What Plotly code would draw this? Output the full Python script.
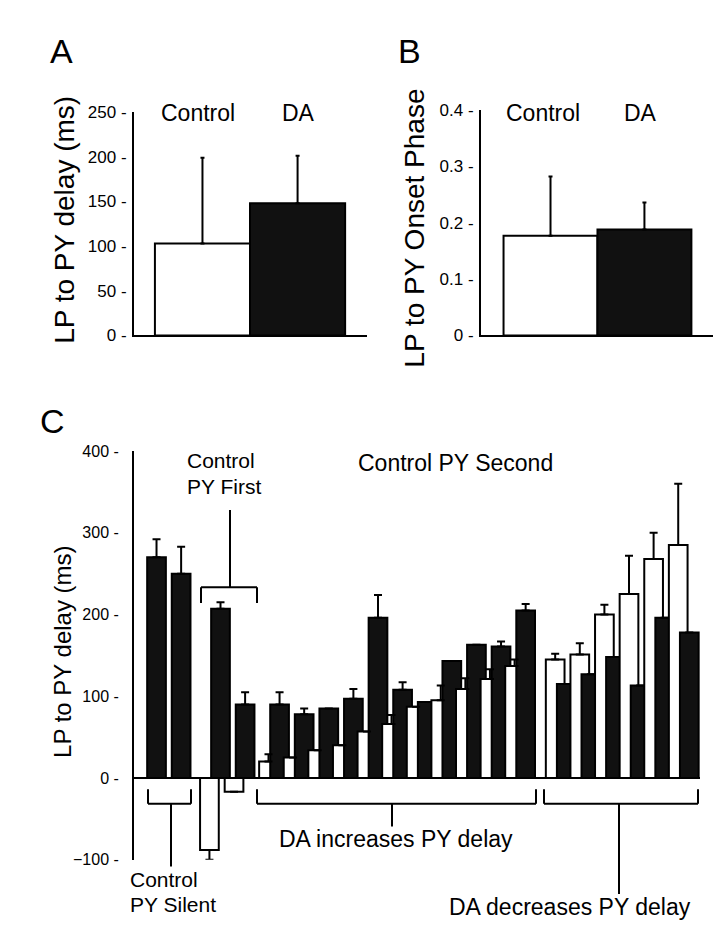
import plotly.graph_objects as go

# Panel A: LP to PY delay (ms)
a_labels = ["Control", "DA"]
a_means = [103, 148]
a_sem = [96, 53]

# Panel B: LP to PY onset phase
b_labels = ["Control", "DA"]
b_means = [0.177, 0.188]
b_sem = [0.105, 0.048]

# Panel C: per-preparation delays (ms), white = control, black = DA
# groups: PY silent (no control bar), PY first, DA increases delay, DA decreases delay
silent_white = [None, None]
silent_white_err = [None, None]
silent_black = [270, 250]
silent_black_err = [22, 33]

first_white = [-88, -17]
first_white_err = [12, None]
first_black = [207, 90]
first_black_err = [8, 15]

inc_white = [20, 25, 34, 40, 57, 66, 87, 95, 109, 121, 137]
inc_white_err = [9, None, None, None, None, 11, None, 18, 13, 12, 8]
inc_black = [90, 78, 85, 97, 196, 108, 93, 143, 163, 161, 205]
inc_black_err = [15, 7, None, 12, 28, 9, None, None, None, 6, 8]

dec_white = [145, 151, 200, 225, 268, 285]
dec_white_err = [7, 14, 12, 47, 32, 75]
dec_black = [115, 127, 148, 113, 196, 178]
dec_black_err = [None, None, None, None, None, None]

W, H = 725, 944
FONT = "Liberation Sans, Arial, sans-serif"
BLACK = "#111111"


def px(x):
    return x / W


def py(y):
    return 1 - y / H


fig = go.Figure()

# ---- panel A
fig.add_trace(go.Bar(
    x=[0, 1], y=a_means, width=1.0, xaxis="x", yaxis="y",
    marker=dict(color=["white", BLACK], line=dict(color="black", width=2)),
    error_y=dict(type="data", symmetric=False, array=a_sem, arrayminus=[0, 0],
                 color="black", thickness=2, width=2),
))

# ---- panel B
fig.add_trace(go.Bar(
    x=[0, 1], y=b_means, width=1.0, xaxis="x2", yaxis="y2",
    marker=dict(color=["white", BLACK], line=dict(color="black", width=2)),
    error_y=dict(type="data", symmetric=False, array=b_sem, arrayminus=[0, 0],
                 color="black", thickness=2, width=2),
))

# ---- panel C: interleave white/black per pair so each next bar overlaps the previous
groups = [
    (silent_white, silent_white_err, silent_black, silent_black_err),
    (first_white, first_white_err, first_black, first_black_err),
    (inc_white, inc_white_err, inc_black, inc_black_err),
    (dec_white, dec_white_err, dec_black, dec_black_err),
]
group_start = [0.0, 2.6, 5.0, 16.65]

xs, ys, cols, eplus, eminus = [], [], [], [], []
for (wv, we, bv, be), start in zip(groups, group_start):
    for i in range(len(wv)):
        pos = start + i
        for val, err, col, off in ((wv[i], we[i], "white", -0.225), (bv[i], be[i], BLACK, 0.225)):
            if val is None:
                continue
            xs.append(pos + off)
            ys.append(val)
            cols.append(col)
            if err is None:
                eplus.append(None)
                eminus.append(None)
            elif val >= 0:
                eplus.append(err)
                eminus.append(0)
            else:
                eplus.append(0)
                eminus.append(err)

fig.add_trace(go.Bar(
    x=xs, y=ys, width=0.76, xaxis="x3", yaxis="y3",
    marker=dict(color=cols, line=dict(color="black", width=2)),
    error_y=dict(type="data", symmetric=False, array=eplus, arrayminus=eminus,
                 color="black", thickness=2, width=4),
))

common_x = dict(showgrid=False, zeroline=False, ticks="", showticklabels=False)
common_y = dict(showgrid=False, ticks="", ticksuffix=" -", color="black")

fig.update_layout(
    width=W, height=H,
    margin=dict(l=0, r=0, t=0, b=0),
    paper_bgcolor="white", plot_bgcolor="white",
    showlegend=False, barmode="overlay",
    font=dict(family=FONT, color="black", size=23),
    xaxis=dict(domain=[px(126), px(359)], range=[-0.72, 1.73], anchor="y",
               showline=True, linecolor="black", linewidth=2, **common_x),
    yaxis=dict(domain=[py(325), py(97)], range=[0, 250], dtick=50, anchor="x",
               showline=True, linecolor="black", linewidth=2, zeroline=False,
               tickfont=dict(size=17), ticklabelstandoff=2, **common_y),
    xaxis2=dict(domain=[px(473), px(705)], range=[-0.74, 1.73], anchor="y2",
                showline=True, linecolor="black", linewidth=2, **common_x),
    yaxis2=dict(domain=[py(325), py(95)], range=[0, 0.4], dtick=0.1, anchor="x2",
                showline=True, linecolor="black", linewidth=2, zeroline=False,
                tickfont=dict(size=17), ticklabelstandoff=2, **common_y),
    xaxis3=dict(domain=[px(126), px(692)], range=[-0.69, 22.31], anchor="y3",
                showline=False, **common_x),
    yaxis3=dict(domain=[py(860), py(443)], range=[-100, 400], dtick=100, anchor="x3",
                showline=True, linecolor="black", linewidth=2,
                zeroline=True, zerolinecolor="black", zerolinewidth=2,
                tickfont=dict(size=16), ticklabelstandoff=10, **common_y),
)


def text(x, y, s, size=23, angle=0, xanchor="center"):
    fig.add_annotation(x=px(x), y=py(y), xref="paper", yref="paper", text=s,
                       showarrow=False, textangle=angle, xanchor=xanchor, yanchor="middle",
                       font=dict(size=size, family=FONT, color="black"))


def line(x0, y0, x1, y1):
    fig.add_shape(type="line", xref="paper", yref="paper",
                  x0=px(x0), y0=py(y0), x1=px(x1), y1=py(y1),
                  line=dict(color="black", width=2))


# panel letters
text(53, 35, "A", size=34)
text(401, 35, "B", size=34)
text(44, 412, "C", size=34)

# axis titles
text(57, 207, "LP to PY delay (ms)", size=28, angle=-90)
text(407, 216, "LP to PY Onset Phase", size=28, angle=-90)
text(55, 648, "LP to PY delay (ms)", size=24, angle=-90)

# panel A / B labels
text(190, 98, a_labels[0])
text(290, 98, a_labels[1])
text(535, 98, b_labels[0])
text(632, 98, b_labels[1])

# panel C labels
text(177, 453, "Control", size=21, xanchor="left")
text(177, 479, "PY First", size=21, xanchor="left")
text(447, 455, "Control PY Second")
text(120, 880, "Control", size=21, xanchor="left")
text(120, 906, "PY Silent", size=21, xanchor="left")
text(388, 839, "DA increases PY delay")
text(562, 908, "DA decreases PY delay")

# bracket over "PY First"
line(222, 503, 222, 582)
line(193, 582, 249, 582)
line(193, 582, 193, 598)
line(249, 582, 249, 598)

# brackets under the baseline
for x0, x1, stem, bottom in ((140, 183, 163, 867), (249, 528, 384, 826), (536, 690, 611, 895)):
    line(x0, 788, x0, 803)
    line(x1, 788, x1, 803)
    line(x0, 803, x1, 803)
    line(stem, 803, stem, bottom)

fig.write_html("out.html")
